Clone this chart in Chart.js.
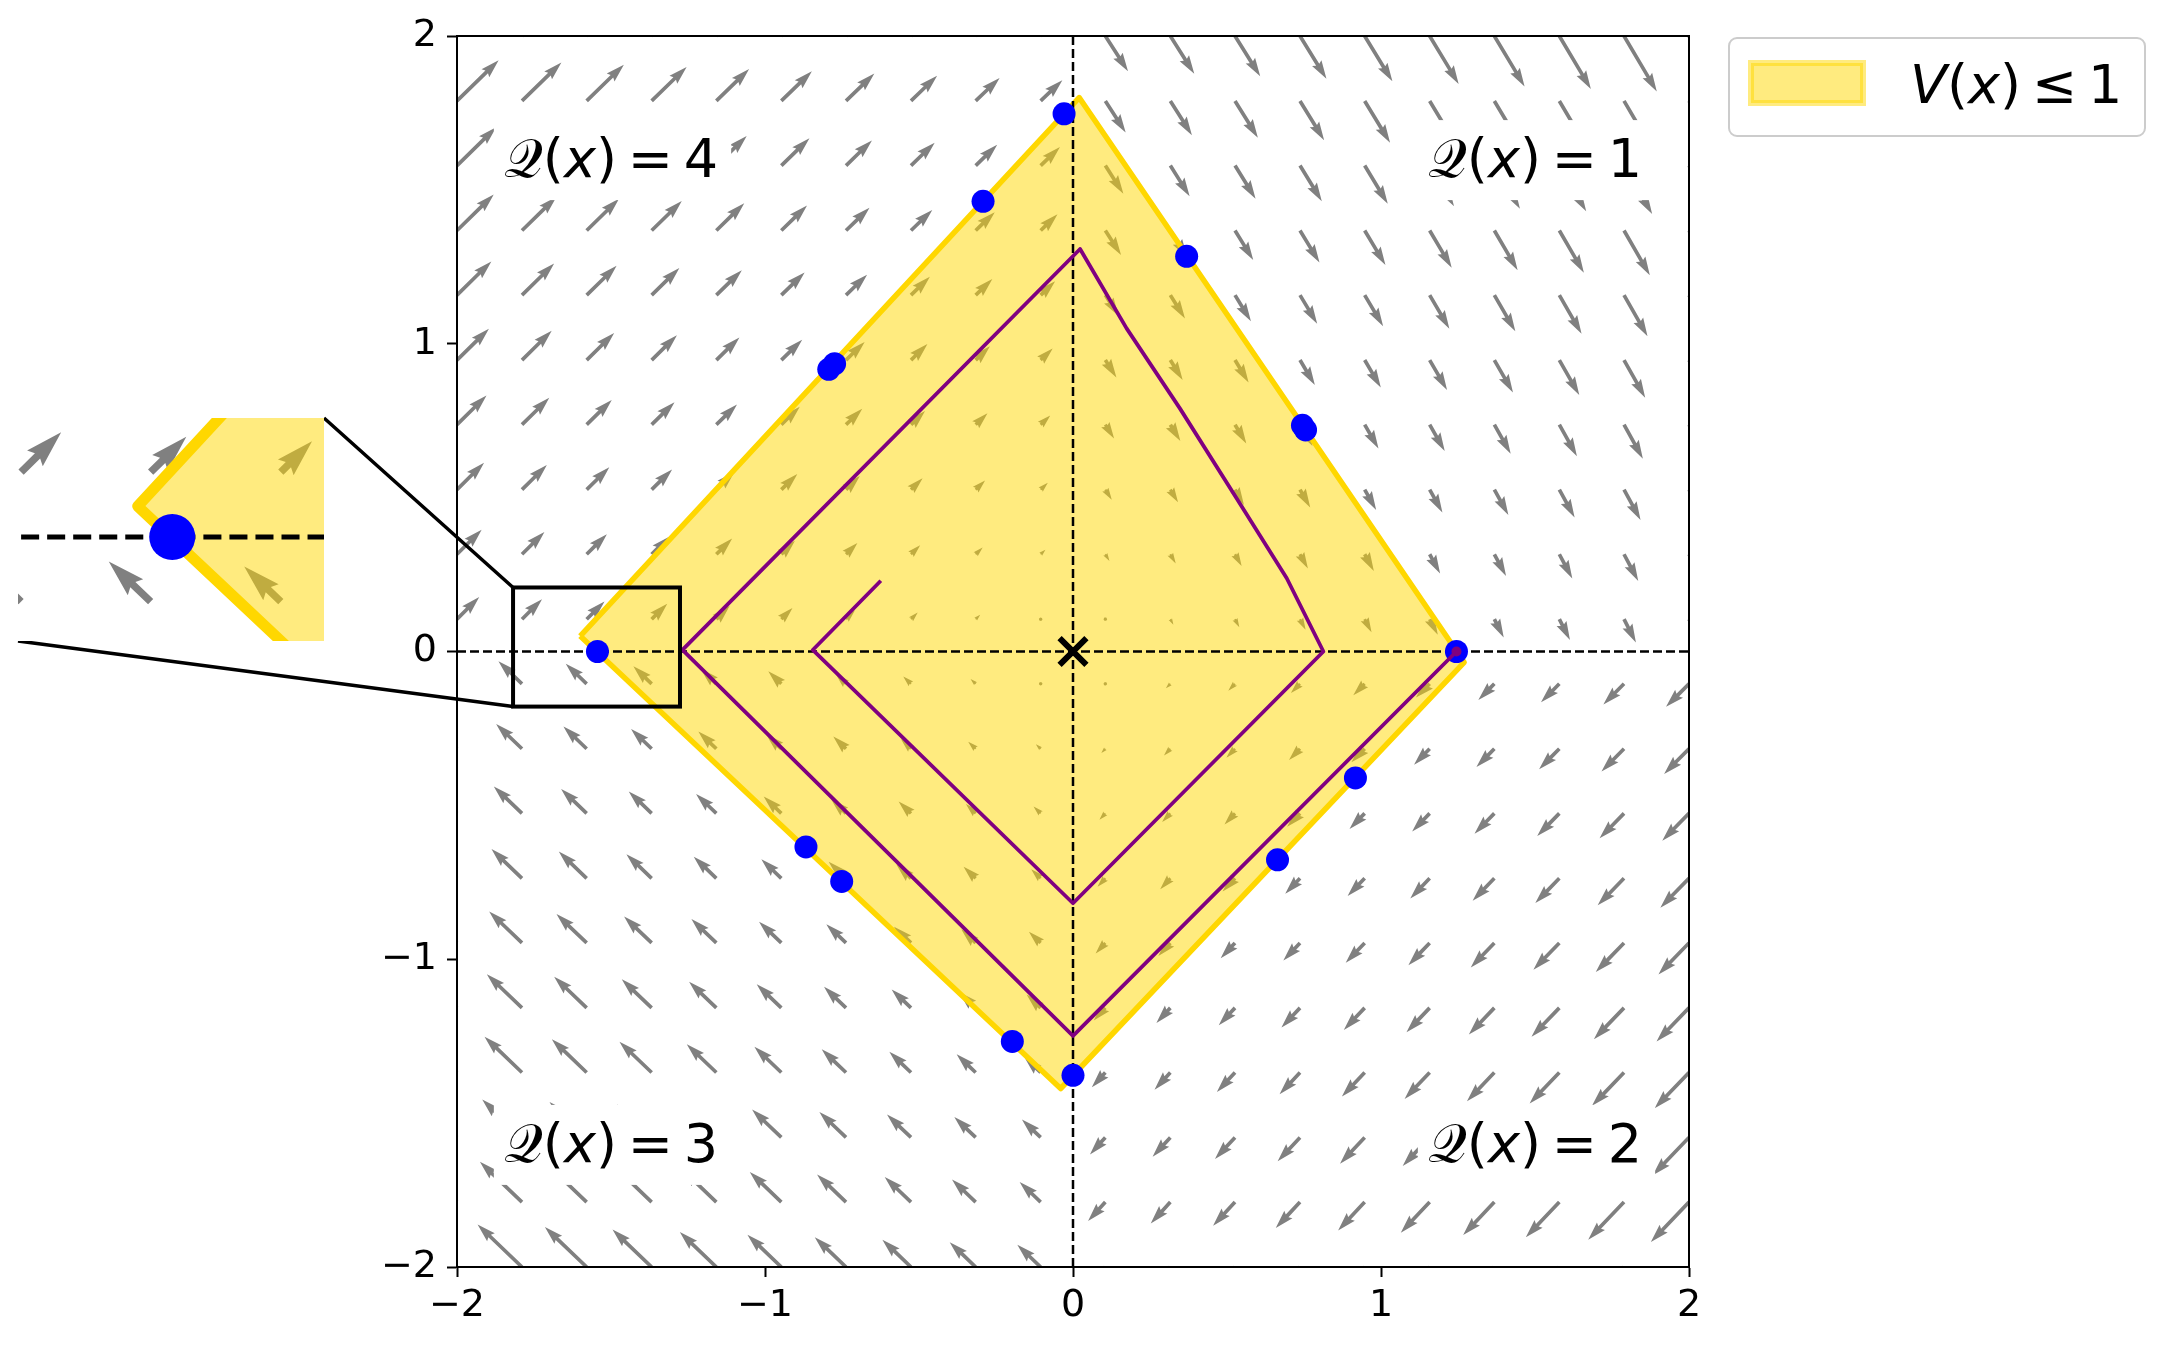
<!DOCTYPE html>
<html>
<head>
<meta charset="utf-8">
<script src="https://cdn.jsdelivr.net/npm/chart.js@4.4.0/dist/chart.umd.min.js"></script>
<style>
  html, body { margin: 0; padding: 0; background: #fff; }
  #wrap { width: 2160px; height: 1346px; position: relative; }
</style>
</head>
<body>
<div id="wrap"><canvas id="chart"></canvas></div>
<script>
// axis ticks
const tickValues = [-2, -1, 0, 1, 2];

// quiver grid, 20 points per axis
const gridPoints = [-2, -1.789, -1.579, -1.368, -1.158, -0.947, -0.737, -0.526, -0.316, -0.105,
  0.105, 0.316, 0.526, 0.737, 0.947, 1.158, 1.368, 1.579, 1.789, 2];

// vector field of each mode: [[dx/dx1, dx/dx2], [dy/dx1, dy/dx2]]
const fieldQ1 = [[0.6, 1.1], [-1.2, -1.7]];
const fieldQ2 = [[-1.1, 0.9], [-1.1, 1.0]];
const fieldQ3 = [[1.25, 1.1], [-1.2, -1.05]];
const fieldQ4 = [[-1.05, 1.15], [-1.05, 1.1]];
const arrowScale = 0.0325;

// sublevel set V(x) <= 1
const levelSetX = [-1.60, 0.02, 1.27, -0.04, -1.60];
const levelSetY = [0.05, 1.80, -0.035, -1.42, 0.05];

// trajectory
const trajX = [-0.624, -0.845, 0, 0.813, 0.694, 0.531, 0.347, 0.174, 0.023, -1.268, 0, 1.245];
const trajY = [0.230, 0.005, -0.818, 0, 0.238, 0.498, 0.79, 1.05, 1.308, 0.005, -1.249, 0];

// boundary samples
const sampleX = [-0.029, -0.292, -0.793, -0.774, 0.369, 0.745, 0.755, 1.245, -1.544, 0.917, 0.664, -0.867, -0.751, -0.197, 0];
const sampleY = [1.747, 1.463, 0.917, 0.935, 1.284, 0.735, 0.72, 0, 0, -0.411, -0.677, -0.635, -0.747, -1.267, -1.377];

// mode labels
const modeLabels = ['1', '2', '3', '4'];
const modeLabelX = [1.5, 1.5, -1.5, -1.5];
const modeLabelY = [1.6, -1.6, -1.6, 1.6];

// zoomed region
const insetX = [-1.794, -1.298];
const insetY = [-0.169, 0.193];
const zoomBoxX = [-1.818, -1.276];
const zoomBoxY = [-0.179, 0.208];

const INSET = { left: 18, top: 418, width: 306, height: 223 };
const SHAFT = 3.7;
const EDGE = 5.5;
const FONT = '"DejaVu Sans"';

function fieldFor(x, y) {
  if (x > 0 && y > 0) return fieldQ1;
  if (x > 0 && y < 0) return fieldQ2;
  if (x < 0 && y < 0) return fieldQ3;
  return fieldQ4;
}

function drawArrow(ctx, x0, y0, x1, y1, w) {
  const dx = x1 - x0, dy = y1 - y0;
  const L = Math.hypot(dx, dy);
  let pts;
  if (L < w) {
    pts = [];
    for (let i = 0; i < 6; i++) {
      const t = i * Math.PI / 3;
      pts.push([Math.cos(t) * w / 2, Math.sin(t) * w / 2]);
    }
  } else if (L < 5 * w) {
    const s = L / (5 * w) * w;
    pts = [[0, 0.5], [0.5, 0.5], [0, 1.5], [5, 0], [0, -1.5], [0.5, -0.5], [0, -0.5]]
      .map(p => [p[0] * s, p[1] * s]);
  } else {
    pts = [[0, 0.5 * w], [L - 4.5 * w, 0.5 * w], [L - 5 * w, 1.5 * w], [L, 0],
      [L - 5 * w, -1.5 * w], [L - 4.5 * w, -0.5 * w], [0, -0.5 * w]];
  }
  ctx.save();
  ctx.translate(x0, y0);
  ctx.rotate(Math.atan2(dy, dx));
  ctx.beginPath();
  pts.forEach((p, i) => i ? ctx.lineTo(p[0], p[1]) : ctx.moveTo(p[0], p[1]));
  ctx.closePath();
  ctx.fill();
  ctx.restore();
}

function drawQuiver(ctx, xs, ys) {
  ctx.fillStyle = '#808080';
  gridPoints.forEach(gx => {
    gridPoints.forEach(gy => {
      const A = fieldFor(gx, gy);
      const u = (A[0][0] * gx + A[0][1] * gy) * arrowScale;
      const v = (A[1][0] * gx + A[1][1] * gy) * arrowScale;
      drawArrow(ctx,
        xs.getPixelForValue(gx), ys.getPixelForValue(gy),
        xs.getPixelForValue(gx + u), ys.getPixelForValue(gy + v), SHAFT);
    });
  });
}

// calligraphic Q, falls back to a serif italic Q if the glyph is missing
let calQ = null;
function getCalQ(ctx, size) {
  if (calQ) return calQ;
  ctx.save();
  ctx.font = size + 'px "DejaVu Serif", ' + FONT;
  const a = ctx.measureText('\u{1D4AC}').width;
  const b = ctx.measureText('\u{10FFFD}').width;
  ctx.restore();
  if (Math.abs(a - b) > 0.5) calQ = { text: '\u{1D4AC}', font: size + 'px "DejaVu Serif", ' + FONT };
  else calQ = { text: 'Q', font: 'italic ' + size + 'px "DejaVu Serif"' };
  return calQ;
}

function piecesWidth(ctx, pieces) {
  let w = 0;
  pieces.forEach(p => {
    ctx.font = p.font;
    w += (p.gap || 0) + ctx.measureText(p.text).width;
  });
  return w;
}

function drawPieces(ctx, pieces, left, baseline) {
  let x = left;
  ctx.textBaseline = 'alphabetic';
  ctx.textAlign = 'left';
  pieces.forEach(p => {
    ctx.font = p.font;
    x += p.gap || 0;
    ctx.fillText(p.text, x, baseline);
    x += ctx.measureText(p.text).width;
  });
}

function drawModeLabels(ctx, xs, ys) {
  const size = 54;
  const q = getCalQ(ctx, size);
  const normal = size + 'px ' + FONT;
  const italic = 'italic ' + size + 'px ' + FONT;
  const gap = 0.2 * size;
  modeLabels.forEach((lab, i) => {
    const pieces = [
      { text: q.text, font: q.font },
      { text: '(', font: normal },
      { text: 'x', font: italic },
      { text: ')', font: normal },
      { text: '=', font: normal, gap: gap },
      { text: lab, font: normal, gap: gap }
    ];
    const cx = xs.getPixelForValue(modeLabelX[i]);
    const cy = ys.getPixelForValue(modeLabelY[i]);
    const w = piecesWidth(ctx, pieces);
    const left = cx - w / 2;
    ctx.fillStyle = '#ffffff';
    ctx.fillRect(left - 10, cy - 39, w + 23, 80);
    ctx.fillStyle = '#000000';
    drawPieces(ctx, pieces, left, cy + 0.335 * size);
  });
}

const backgroundLayer = {
  id: 'backgroundLayer',
  beforeDatasetsDraw(chart) {
    const { ctx, chartArea: a, scales } = chart;
    ctx.save();
    ctx.beginPath();
    ctx.rect(a.left, a.top, a.right - a.left, a.bottom - a.top);
    ctx.clip();
    drawQuiver(ctx, scales.x, scales.y);
    drawModeLabels(ctx, scales.x, scales.y);
    ctx.restore();
  }
};

const overlayLayer = {
  id: 'overlayLayer',
  afterDraw(chart) {
    const { ctx, chartArea: a, scales: { x: xs, y: ys } } = chart;
    ctx.save();

    // frame
    ctx.strokeStyle = '#000';
    ctx.lineWidth = 2;
    ctx.strokeRect(a.left, a.top, a.right - a.left, a.bottom - a.top);

    // zoom box + connectors
    const bx0 = xs.getPixelForValue(zoomBoxX[0]), bx1 = xs.getPixelForValue(zoomBoxX[1]);
    const by0 = ys.getPixelForValue(zoomBoxY[1]), by1 = ys.getPixelForValue(zoomBoxY[0]);
    ctx.lineWidth = 4;
    ctx.strokeRect(bx0, by0, bx1 - bx0, by1 - by0);
    ctx.lineWidth = 3.5;
    ctx.beginPath();
    ctx.moveTo(INSET.left + INSET.width, INSET.top);
    ctx.lineTo(bx0, by0);
    ctx.moveTo(INSET.left, INSET.top + INSET.height);
    ctx.lineTo(bx0, by1);
    ctx.stroke();

    // inset: same marks, magnified
    const ix0 = xs.getPixelForValue(insetX[0]), ix1 = xs.getPixelForValue(insetX[1]);
    const iy1 = ys.getPixelForValue(insetY[1]);
    const k = INSET.width / (ix1 - ix0);
    ctx.save();
    ctx.beginPath();
    ctx.rect(INSET.left, INSET.top, INSET.width, INSET.height);
    ctx.clip();
    ctx.fillStyle = '#fff';
    ctx.fillRect(INSET.left, INSET.top, INSET.width, INSET.height);
    ctx.translate(INSET.left, INSET.top);
    ctx.scale(k, k);
    ctx.translate(-ix0, -iy1);
    drawQuiver(ctx, xs, ys);
    ctx.beginPath();
    levelSetX.forEach((v, i) => {
      const px = xs.getPixelForValue(v), py = ys.getPixelForValue(levelSetY[i]);
      i ? ctx.lineTo(px, py) : ctx.moveTo(px, py);
    });
    ctx.closePath();
    ctx.fillStyle = 'rgba(255,215,0,0.5)';
    ctx.fill();
    ctx.strokeStyle = '#FFD700';
    ctx.lineWidth = EDGE;
    ctx.lineJoin = 'round';
    ctx.stroke();
    ctx.strokeStyle = '#000';
    ctx.lineWidth = 2.5;
    ctx.setLineDash([9, 4]);
    ctx.beginPath();
    ctx.moveTo(xs.getPixelForValue(-2), ys.getPixelForValue(0));
    ctx.lineTo(xs.getPixelForValue(2), ys.getPixelForValue(0));
    ctx.stroke();
    ctx.setLineDash([]);
    ctx.fillStyle = '#0000FF';
    sampleX.forEach((v, i) => {
      ctx.beginPath();
      ctx.arc(xs.getPixelForValue(v), ys.getPixelForValue(sampleY[i]), 11.5, 0, Math.PI * 2);
      ctx.fill();
    });
    ctx.restore();

    // legend
    ctx.fillStyle = 'rgba(255,255,255,0.8)';
    ctx.strokeStyle = '#cccccc';
    ctx.lineWidth = 2;
    ctx.beginPath();
    ctx.roundRect(1729, 38, 416, 98, 8);
    ctx.fill();
    ctx.stroke();
    ctx.fillStyle = 'rgba(255,215,0,0.5)';
    ctx.fillRect(1751, 63, 112, 40);
    ctx.strokeStyle = 'rgba(255,215,0,0.5)';
    ctx.lineWidth = 6;
    ctx.strokeRect(1751, 63, 112, 40);
    const size = 54;
    const normal = size + 'px ' + FONT;
    const italic = 'italic ' + size + 'px ' + FONT;
    ctx.fillStyle = '#000';
    drawPieces(ctx, [
      { text: 'V', font: italic },
      { text: '(', font: normal },
      { text: 'x', font: italic },
      { text: ')', font: normal },
      { text: '\u2264', font: normal, gap: 0.2 * size },
      { text: '1', font: normal, gap: 0.2 * size }
    ], 1910, 103);

    ctx.restore();
  }
};

const toXY = (xsArr, ysArr) => xsArr.map((v, i) => ({ x: v, y: ysArr[i] }));
const minusTick = v => (v < 0 ? '\u2212' + Math.abs(v) : String(v));

new Chart(document.getElementById('chart'), {
  type: 'scatter',
  data: {
    datasets: [
      {
        type: 'line',
        label: 'V(x) \u2264 1',
        data: toXY(levelSetX, levelSetY),
        fill: 'shape',
        backgroundColor: 'rgba(255,215,0,0.5)',
        borderColor: '#FFD700',
        borderWidth: EDGE,
        borderJoinStyle: 'round',
        pointRadius: 0,
        tension: 0,
        order: 5
      },
      {
        type: 'line',
        data: [{ x: -2, y: 0 }, { x: 2, y: 0 }],
        borderColor: '#000',
        borderWidth: 2.5,
        borderDash: [9, 4],
        pointRadius: 0,
        fill: false,
        order: 4
      },
      {
        type: 'line',
        data: [{ x: 0, y: -2 }, { x: 0, y: 2 }],
        borderColor: '#000',
        borderWidth: 2.5,
        borderDash: [9, 4],
        pointRadius: 0,
        fill: false,
        order: 4
      },
      {
        data: toXY(sampleX, sampleY),
        pointRadius: 11.5,
        backgroundColor: '#0000FF',
        borderWidth: 0,
        order: 3
      },
      {
        type: 'line',
        data: toXY(trajX, trajY),
        borderColor: '#800080',
        borderWidth: 3.8,
        borderJoinStyle: 'round',
        pointRadius: 0,
        tension: 0,
        fill: false,
        order: 2
      },
      {
        data: [{ x: trajX[trajX.length - 1], y: trajY[trajY.length - 1] }],
        pointRadius: 5,
        backgroundColor: '#800080',
        borderWidth: 0,
        order: 1
      },
      {
        data: [{ x: 0, y: 0 }],
        pointStyle: 'crossRot',
        pointRadius: 19,
        borderColor: '#000',
        borderWidth: 6,
        order: 0
      }
    ]
  },
  options: {
    responsive: true,
    maintainAspectRatio: false,
    animation: false,
    events: [],
    layout: { padding: { left: 0, right: 471, top: 36, bottom: 0 } },
    plugins: {
      legend: { display: false },
      tooltip: { enabled: false }
    },
    scales: {
      x: {
        type: 'linear',
        min: -2,
        max: 2,
        afterFit: s => { s.height = 79; },
        afterBuildTicks: s => { s.ticks = tickValues.map(v => ({ value: v })); },
        ticks: {
          callback: minusTick,
          color: '#000',
          padding: 6,
          maxRotation: 0,
          font: { family: 'DejaVu Sans', size: 38 }
        },
        grid: { drawOnChartArea: false, color: '#000', tickLength: 10, tickWidth: 2 },
        border: { color: '#000', width: 2 }
      },
      y: {
        type: 'linear',
        min: -2,
        max: 2,
        afterFit: s => { s.width = 457; },
        afterBuildTicks: s => { s.ticks = tickValues.map(v => ({ value: v })); },
        ticks: {
          callback: minusTick,
          color: '#000',
          padding: 10,
          font: { family: 'DejaVu Sans', size: 38 }
        },
        grid: { drawOnChartArea: false, color: '#000', tickLength: 10, tickWidth: 2 },
        border: { color: '#000', width: 2 }
      }
    }
  },
  plugins: [backgroundLayer, overlayLayer]
});
</script>
</body>
</html>
